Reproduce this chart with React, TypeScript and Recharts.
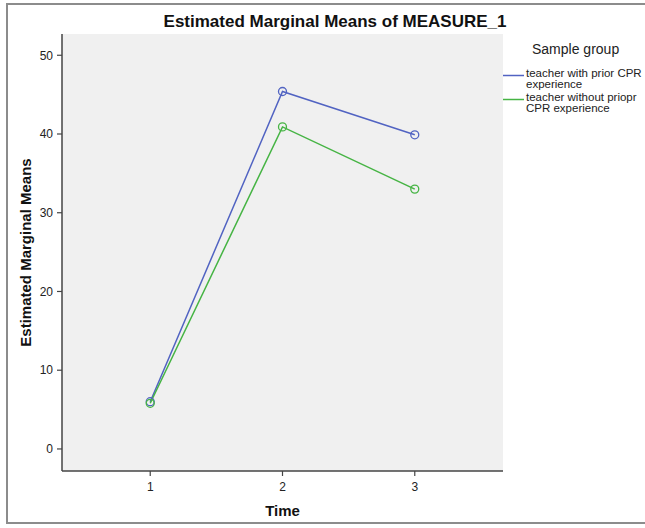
import React from "react";
import { LineChart, Line, XAxis, YAxis, CartesianGrid, Legend, Label } from "recharts";

const times = [1, 2, 3];
const withPriorValues = [6.0, 45.4, 39.9];
const withoutPriorValues = [5.8, 40.9, 33.0];
const yTicks = [0, 10, 20, 30, 40, 50];
const xTicks = [1, 2, 3];
const seriesNames = ["teacher with prior CPR experience", "teacher without priopr CPR experience"];

const FONT = "'Liberation Sans', Arial, sans-serif";
const BLUE = "#5163c2";
const GREEN = "#46b444";
const AXIS = "#444";

const data = times.map((t, i) => ({
  time: t,
  withPrior: withPriorValues[i],
  withoutPrior: withoutPriorValues[i],
}));

const LegendContent = (props: any) => {
  const payload = props.payload || [];
  return (
    <div style={{ fontFamily: FONT, color: "#222", textAlign: "left" }}>
      <div style={{ fontSize: 14, lineHeight: "18px", paddingLeft: 29, whiteSpace: "nowrap" }}>Sample group</div>
      {payload.map((entry: any, i: number) => (
        <div key={i} style={{ display: "flex", marginTop: i === 0 ? 9.5 : 2 }}>
          <svg width={23} height={22} style={{ flex: "none", display: "block" }}>
            <line x1={0} x2={21} y1={7.5} y2={7.5} stroke={entry.color} strokeWidth={1.5} />
          </svg>
          <div style={{ fontSize: 11.5, lineHeight: "11px", width: 118 }}>{entry.value}</div>
        </div>
      ))}
    </div>
  );
};

const YLabel = (props: any) => {
  const vb = props.viewBox || {};
  const cy = vb.y + vb.height / 2;
  return (
    <text
      transform={`translate(31, ${cy}) rotate(-90)`}
      textAnchor="middle"
      fontFamily={FONT}
      fontWeight="bold"
      fontSize={15}
      fill="#111"
    >
      Estimated Marginal Means
    </text>
  );
};

const XLabel = (props: any) => {
  const vb = props.viewBox || {};
  const cx = vb.x + vb.width / 2;
  return (
    <text x={cx} y={516} textAnchor="middle" fontFamily={FONT} fontWeight="bold" fontSize={15} fill="#111">
      Time
    </text>
  );
};

const tickStyle = { fontFamily: FONT, fontSize: 12, fill: "#222" };

export default function App() {
  return (
    <div style={{ position: "absolute", left: 0, top: 0, width: 645, height: 528, overflow: "hidden", background: "#fff" }}>
      <div
        style={{
          position: "absolute",
          left: 6,
          top: 3,
          width: 660,
          height: 521,
          border: "2px solid #8c8c8c",
          boxSizing: "border-box",
        }}
      />
      <div
        style={{
          position: "absolute",
          left: 335,
          top: 12,
          transform: "translateX(-50%)",
          whiteSpace: "nowrap",
          fontFamily: FONT,
          fontWeight: "bold",
          fontSize: 17,
          lineHeight: "20px",
          color: "#111",
        }}
      >
        Estimated Marginal Means of MEASURE_1
      </div>
      <LineChart width={645} height={528} data={data} margin={{ top: 34, right: 142, bottom: 0, left: 0 }}>
        <CartesianGrid fill="#f0f0f0" horizontal={false} vertical={false} />
        <XAxis
          dataKey="time"
          type="number"
          domain={[0.333, 3.667]}
          ticks={xTicks}
          allowDataOverflow
          height={57}
          tickSize={5}
          tickMargin={6}
          tick={tickStyle}
          axisLine={{ stroke: AXIS, strokeWidth: 1.5 }}
          tickLine={{ stroke: AXIS, strokeWidth: 1.2 }}
        >
          <Label content={<XLabel />} />
        </XAxis>
        <XAxis
          xAxisId="top"
          dataKey="time"
          type="number"
          orientation="top"
          domain={[0.333, 3.667]}
          allowDataOverflow
          height={0}
          tick={false}
          tickLine={false}
          axisLine={{ stroke: AXIS, strokeWidth: 1.5 }}
        />
        <YAxis
          type="number"
          domain={[-2.8, 52.7]}
          ticks={yTicks}
          allowDataOverflow
          width={62}
          tickSize={5}
          tickMargin={4}
          tick={tickStyle}
          axisLine={{ stroke: AXIS, strokeWidth: 1.5 }}
          tickLine={{ stroke: AXIS, strokeWidth: 1.2 }}
        >
          <Label content={<YLabel />} />
        </YAxis>
        <YAxis
          yAxisId="right"
          orientation="right"
          type="number"
          domain={[-2.8, 52.7]}
          allowDataOverflow
          width={0}
          tick={false}
          tickLine={false}
          axisLine={{ stroke: AXIS, strokeWidth: 1.5 }}
        />
        <Legend
          content={<LegendContent />}
          layout="vertical"
          verticalAlign="middle"
          align="center"
          wrapperStyle={{ position: "absolute", left: 503, top: 40, width: 142 }}
        />
        <Line
          name={seriesNames[0]}
          dataKey="withPrior"
          stroke={BLUE}
          strokeWidth={1.5}
          dot={{ r: 4, stroke: BLUE, strokeWidth: 1.3, fill: "none" }}
          activeDot={false}
          isAnimationActive={false}
        />
        <Line
          name={seriesNames[1]}
          dataKey="withoutPrior"
          stroke={GREEN}
          strokeWidth={1.5}
          dot={{ r: 4, stroke: GREEN, strokeWidth: 1.3, fill: "none" }}
          activeDot={false}
          isAnimationActive={false}
        />
      </LineChart>
    </div>
  );
}
